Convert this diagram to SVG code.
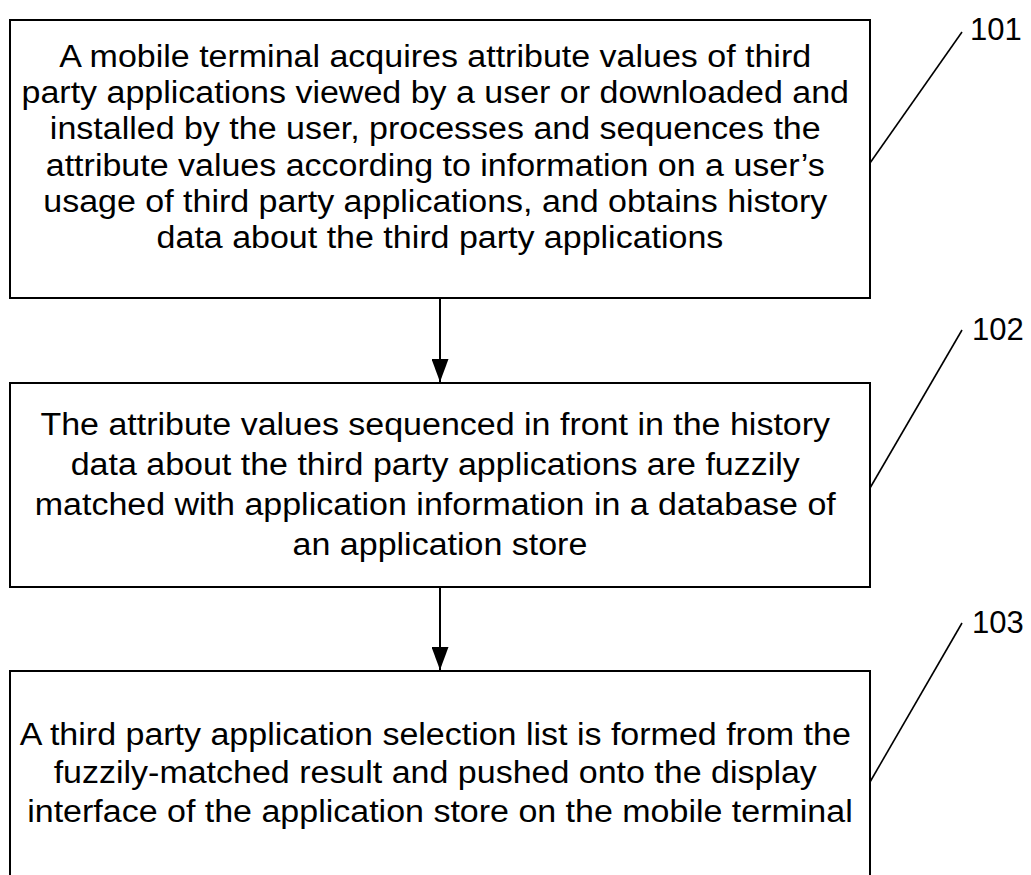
<svg xmlns="http://www.w3.org/2000/svg" width="1031" height="875" viewBox="0 0 1031 875">
  <style>
    .box { fill: #ffffff; stroke: #000000; stroke-width: 2; }
    .txt { font-family: "Liberation Sans", Arial, sans-serif; font-size: 31px; fill: #000000; text-anchor: middle; }
    .lbl { font-family: "Liberation Sans", Arial, sans-serif; font-size: 31px; fill: #000000; }
    .conn { stroke: #000000; stroke-width: 2; fill: none; }
    .lead { stroke: #000000; stroke-width: 1.6; fill: none; }
  </style>
  <defs>
    <marker id="arrow" markerWidth="23" markerHeight="17" refX="23" refY="8.5" orient="auto" markerUnits="userSpaceOnUse" viewBox="0 0 23 17">
      <path d="M0,0 L23,8.5 L0,17 Z" fill="#000000"/>
    </marker>
  </defs>
  <rect width="1031" height="875" fill="#ffffff"/>

  <g id="node-101">
    <rect class="box" x="10" y="20" width="860" height="278"/>
    <text class="txt" transform="translate(-42.7 0) scale(1.097 1)">
      <tspan x="440" y="67">A mobile terminal acquires attribute values of third</tspan>
      <tspan x="440" y="103">party applications viewed by a user or downloaded and</tspan>
      <tspan x="440" y="139">installed by the user, processes and sequences the</tspan>
      <tspan x="440" y="176">attribute values according to information on a user’s</tspan>
      <tspan x="440" y="212">usage of third party applications, and obtains history</tspan>
      <tspan x="440" y="248">data about the third party applications</tspan>
    </text>
  </g>

  <g id="node-102">
    <rect class="box" x="10" y="383" width="860" height="204"/>
    <text class="txt" transform="translate(-42.7 0) scale(1.097 1)">
      <tspan x="440" y="435">The attribute values sequenced in front in the history</tspan>
      <tspan x="440" y="475">data about the third party applications are fuzzily</tspan>
      <tspan x="440" y="515">matched with application information in a database of</tspan>
      <tspan x="440" y="555">an application store</tspan>
    </text>
  </g>

  <g id="node-103">
    <rect class="box" x="10" y="671" width="860" height="220"/>
    <text class="txt" transform="translate(-42.7 0) scale(1.097 1)">
      <tspan x="440" y="745">A third party application selection list is formed from the</tspan>
      <tspan x="440" y="783">fuzzily-matched result and pushed onto the display</tspan>
      <tspan x="440" y="822">interface of the application store on the mobile terminal</tspan>
    </text>
  </g>

  <g id="labels">
    <text class="lbl" x="970" y="40">101</text>
    <text class="lbl" x="972" y="340">102</text>
    <text class="lbl" x="972" y="633">103</text>
  </g>

  <g id="connectors">
    <line class="conn" x1="440" y1="298" x2="440" y2="382" marker-end="url(#arrow)"/>
    <line class="conn" x1="440" y1="587" x2="440" y2="670" marker-end="url(#arrow)"/>
    <line class="lead" x1="870" y1="163" x2="962" y2="32"/>
    <line class="lead" x1="870" y1="488" x2="962" y2="330"/>
    <line class="lead" x1="870" y1="782" x2="962" y2="623"/>
  </g>
</svg>
